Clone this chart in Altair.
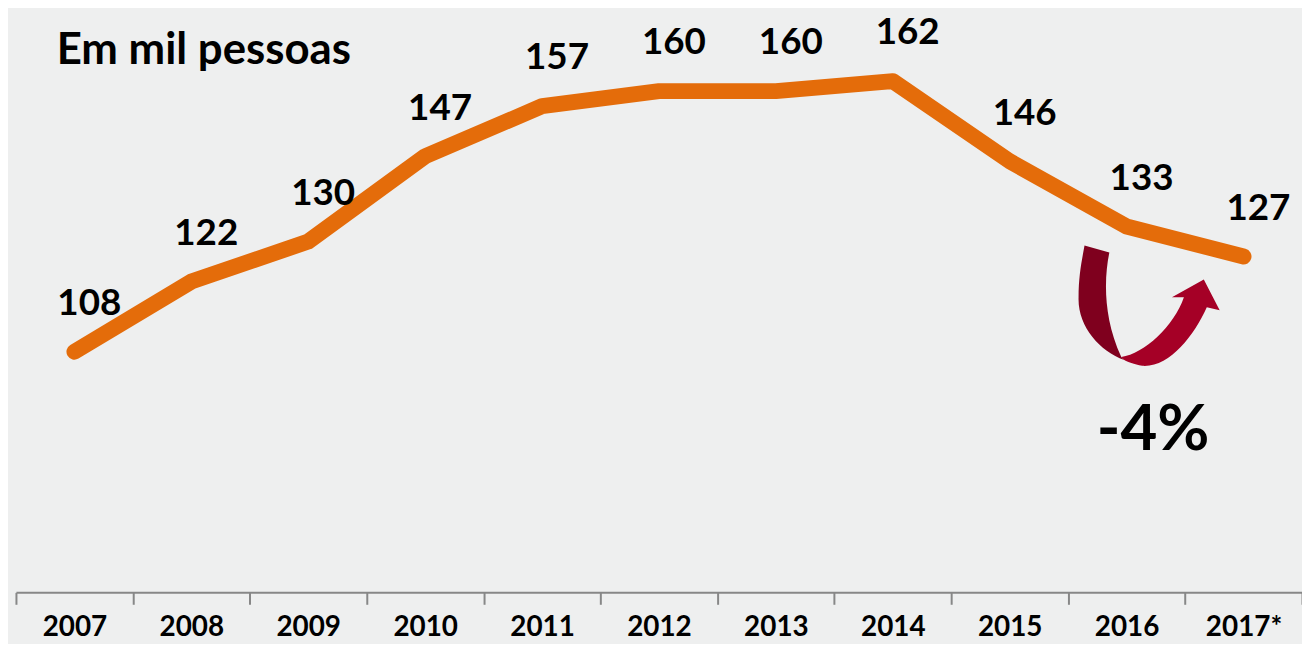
import altair as alt
import pandas as pd

# ---- data ----
years = ["2007", "2008", "2009", "2010", "2011", "2012", "2013", "2014", "2015", "2016", "2017*"]
values = [108, 122, 130, 147, 157, 160, 160, 162, 146, 133, 127]
title_text = ["Paraná"]
subtitle_text = ["Em mil pessoas"]
change_text = "-4%"

df = pd.DataFrame({"ano": years, "valor": values})

FONT = "Lato"
ORANGE = "#E46C0A"
BG = "#EEEFEF"

x_enc = alt.X(
    "ano:N",
    sort=years,
    bandPosition=0.5,
    scale=alt.Scale(type="band", paddingInner=0, paddingOuter=0),
    axis=alt.Axis(
        title=None,
        tickBand="extent",
        domainColor="#878787",
        domainWidth=2,
        tickColor="#878787",
        tickWidth=2,
        tickSize=12,
        labelFont=FONT,
        labelFontWeight="bold",
        labelFontSize=28,
        labelColor="#000000",
        labelBaseline="alphabetic",
        labelPadding=31,
        labelAngle=0,
        grid=False,
    ),
)
y_enc = alt.Y("valor:Q", scale=alt.Scale(domain=[60, 176], nice=False, zero=False), axis=None)

base = alt.Chart(df).encode(x=x_enc, y=y_enc)

line = base.mark_line(color=ORANGE, strokeWidth=16, strokeCap="round", strokeJoin="round")

labels = base.mark_text(
    font=FONT, fontWeight="bold", fontSize=37, color="#000000",
    dx=15, dy=-48, baseline="middle", align="center",
).encode(text="valor:Q")

last = base.transform_filter(alt.datum.ano == "2017*")

ARROW_LEFT = (
    "M -0.903,-0.847 L -0.556,-0.75 C -0.625,-0.417 -0.653,0.139 -0.389,0.708 "
    "L -0.347,0.75 C -0.694,0.625 -1,0.278 -0.986,-0.125 "
    "C -0.986,-0.417 -0.944,-0.625 -0.903,-0.847 Z"
)
ARROW_RIGHT = (
    "M -0.389,0.708 C -0.069,0.667 0.347,0.278 0.486,-0.125 "
    "L 0.319,-0.125 L 0.764,-0.375 L 0.986,0.056 L 0.806,0.014 "
    "C 0.625,0.417 0.278,0.861 -0.097,0.833 "
    "C -0.208,0.806 -0.306,0.778 -0.347,0.75 Z"
)

arrow_l = last.mark_point(
    shape=ARROW_LEFT, filled=True, size=20736, color="#7F001E", opacity=1,
    strokeWidth=0, xOffset=-95, yOffset=50,
)
arrow_r = last.mark_point(
    shape=ARROW_RIGHT, filled=True, size=20736, color="#A50026", opacity=1,
    strokeWidth=0, xOffset=-95, yOffset=50,
)

pct = last.mark_text(
    font=FONT, fontWeight="bold", fontSize=64, color="#000000",
    dx=-91, dy=176, baseline="middle", align="center",
).encode(text=alt.value(change_text))

subtitle = alt.Chart(pd.DataFrame({"t": subtitle_text})).mark_text(
    font=FONT, fontWeight="bold", fontSize=44, color="#000000",
    align="left", baseline="alphabetic",
).encode(x=alt.value(41), y=alt.value(53), text="t:N")

title = alt.Chart(pd.DataFrame({"t": title_text})).mark_text(
    font=FONT, fontWeight="bold", fontSize=84, color="#000000",
    align="left", baseline="alphabetic",
).encode(x=alt.value(44), y=alt.value(-8), text="t:N")

chart = alt.layer(line, labels, arrow_l, arrow_r, pct, subtitle, title).properties(
    width=1294,
    height=585,
    background=BG,
    padding={"left": 8, "top": 1, "right": 0, "bottom": 50},
    autosize=alt.AutoSizeParams(type="none"),
).configure_view(stroke=None)

chart.save("out.html", embed_options={"renderer": "svg", "actions": False})
